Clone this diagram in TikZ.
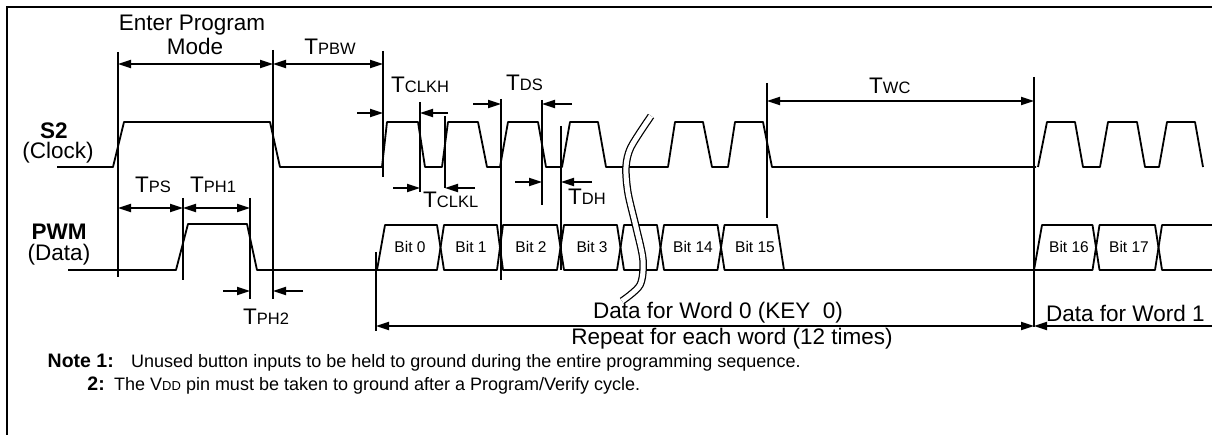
\documentclass[tikz,border=0pt]{standalone}
\usepackage{fontspec}
\setmainfont{Liberation Sans}
\usetikzlibrary{arrows.meta}
\newcommand\lblf{\fontsize{22.5}{24}\selectfont}
\newcommand\subf{\fontsize{16.5}{18}\selectfont}
\newcommand\bitf{\fontsize{15.5}{17}\selectfont}
\newcommand\notef{\fontsize{18}{20}\selectfont}
\newcommand\notehf{\fontsize{19.5}{21}\selectfont}
\newcommand\notesubf{\fontsize{13}{15}\selectfont}
\newcommand\tlab[1]{T{\subf #1}}
\begin{document}
\begin{tikzpicture}[x=1pt,y=-1pt,
  sig/.style={line width=1.8pt, line join=round},
  vl/.style={line width=1.8pt},
  dimarr/.style={line width=1.8pt,{Triangle[length=13pt,width=8pt]}-{Triangle[length=13pt,width=8pt]}},
  rarr/.style={line width=1.8pt,-{Triangle[length=13pt,width=8pt]}},
  lbl/.style={inner sep=0pt, font=\lblf},
  bitlbl/.style={inner sep=0pt, font=\bitf},
  notelbl/.style={inner sep=0pt, font=\notef},
  notehead/.style={inner sep=0pt, font=\notehf\bfseries}]
\useasboundingbox (0,0) rectangle (1212,435);
\fill[white] (0,0) rectangle (1212,435);
% frame
\draw[line width=2pt] (7,435) -- (7,7) -- (1212,7);

% vertical marker lines
\foreach \n/\x/\a/\b in {v1/118/52/277, v2/273/50/299, v3/183/198/280, v4/250/198/299,
  v5/383/51/177, v6/420/102/192, v7/445/116/188, v8/501/99/280, v9/542/100/205,
  v10/561/126/270, v11/767/83/218, v12/1034/77/327, v13/376/252/331}{
  \coordinate (\n t) at (\x,\a);
  \coordinate (\n b) at (\x,\b);
  \draw[vl] (\n t) -- (\n b);
}
% arrow rows
\foreach \n/\y in {r64/64, r113/113, r188/188, r104/104, r182/182, r101/101, r208/208, r291/291, r326/326}
  \coordinate (\n) at (0,\y);

% S2 clock
\draw[sig] (57,167) -- (113,167) -- (124,122) -- (270,122) -- (280,167) -- (382,167) -- (387,122)
  -- (418,122) -- (425,167) -- (442,167) -- (448,122) -- (478,122) -- (487,167) -- (500,167)
  -- (508,122) -- (538,122) -- (546,167) -- (562,167) -- (570,122) -- (598,122) -- (606,167)
  -- (668,167) -- (675,122) -- (703,122) -- (712,167) -- (728,167) -- (735,122) -- (763,122)
  -- (772,167) -- (1036,167);
\draw[sig] (1038,167) -- (1047,122) -- (1075,122) -- (1083,167) -- (1100,167) -- (1108,122)
  -- (1137,122) -- (1145,167) -- (1159,167) -- (1167,122) -- (1195,122) -- (1203,167);

% PWM data
\draw[sig] (68,270) -- (176,270) -- (188,224) -- (247,224) -- (257,270) -- (437,270) -- (444,225)
  -- (497,225) -- (503,270) -- (557,270) -- (564,225) -- (617,225) -- (624,270) -- (657,270)
  -- (664,225) -- (717.5,225) -- (724.5,270) -- (1092.5,270) -- (1099.5,225) -- (1155,225)
  -- (1162,270) -- (1212,270);
\draw[sig] (377,270) -- (385,225) -- (437,225) -- (444,270) -- (497,270) -- (503,225) -- (557,225)
  -- (564,270) -- (617,270) -- (624,225) -- (657,225) -- (664,270) -- (717.5,270) -- (724.5,225)
  -- (777,225) -- (784,270);
\draw[sig] (1034,270) -- (1042,225) -- (1092.5,225) -- (1099.5,270) -- (1155,270) -- (1162,225)
  -- (1212,225);

% break mark
\draw[line width=7.5pt] plot[smooth] coordinates {(651,116) (631,147) (626,167) (628,193) (636,227) (643,260) (640,285) (622,301)};
\draw[line width=5pt, white] plot[smooth] coordinates {(651,116) (631,147) (626,167) (628,193) (636,227) (643,260) (640,285) (622,301)};

% bit labels
\node[bitlbl] (b0) at (410,247) {Bit 0};
\node[bitlbl] (b1) at (471,247) {Bit 1};
\node[bitlbl] (b2) at (531,247) {Bit 2};
\node[bitlbl] (b3) at (592,247) {Bit 3};
\node[bitlbl] (b14) at (693,247) {Bit 14};
\node[bitlbl] (b15) at (755,247) {Bit 15};
\node[bitlbl] (b16) at (1069,247) {Bit 16};
\node[bitlbl] (b17) at (1129,247) {Bit 17};

% dimension arrows
\draw[dimarr] (v1t |- r64) -- (v2t |- r64);
\draw[dimarr] (v2t |- r64) -- (v5t |- r64);
\coordinate (h1) at (357,113); \coordinate (h2) at (448,113);
\draw[rarr] (h1) -- (v5t |- r113);
\draw[rarr] (h2) -- (v6t |- r113);
\coordinate (l1) at (393,188); \coordinate (l2) at (475,188);
\draw[rarr] (l1) -- (v6t |- r188);
\draw[rarr] (l2) -- (v7t |- r188);
\coordinate (s1) at (473,104); \coordinate (s2) at (572,104);
\draw[rarr] (s1) -- (v8t |- r104);
\draw[rarr] (s2) -- (v9t |- r104);
\coordinate (d1) at (515,182); \coordinate (d2) at (592,182);
\draw[rarr] (d1) -- (v9t |- r182);
\draw[rarr] (d2) -- (v10t |- r182);
\draw[dimarr] (v11t |- r101) -- (v12t |- r101);
\draw[dimarr] (v1t |- r208) -- (v3t |- r208);
\draw[dimarr] (v3t |- r208) -- (v4t |- r208);
\coordinate (p1) at (223,291); \coordinate (p2) at (303,291);
\draw[rarr] (p1) -- (v4t |- r291);
\draw[rarr] (p2) -- (v2t |- r291);
\draw[dimarr] (v13t |- r326) -- (v12t |- r326);
\coordinate (w1) at (1212,326);
\draw[rarr] (w1) -- (v12t |- r326);

% labels
\node[lbl] (ep) at (192,25) {Enter Program};
\node[lbl] (md) at (195,46) {Mode};
\node[lbl] (tpbw) at (330,47) {\tlab{PBW}};
\node[lbl, anchor=west] (tclkh) at (391,85) {\tlab{CLKH}};
\node[lbl, anchor=west] (tclkl) at (423,200) {\tlab{CLKL}};
\node[lbl, anchor=west] (tds) at (506,83) {\tlab{DS}};
\node[lbl, anchor=west] (tdh) at (568,197) {\tlab{DH}};
\node[lbl, anchor=west] (twc) at (869,86) {\tlab{WC}};
\node[lbl, anchor=west] (tps) at (135,185) {\tlab{PS}};
\node[lbl, anchor=west] (tph1) at (190,185) {\tlab{PH1}};
\node[lbl, anchor=west] (tph2) at (243,317) {\tlab{PH2}};
\node[lbl] (s2) at (54,131) {\bfseries S2};
\node[lbl] (clk) at (58,153) {(Clock)};
\node[lbl] (pwm) at (59,232) {\bfseries PWM};
\node[lbl] (dat) at (59,255) {(Data)};
\node[lbl] (w0) at (718,313) {Data for Word 0 (KEY\ \ 0)};
\node[lbl] (rep) at (732,339) {Repeat for each word (12 times)};
\node[lbl, anchor=west] (w1t) at (1046,313) {Data for Word 1};

% notes
\node[notehead, anchor=base east] (n1) at (114,367) {Note 1:};
\node[notelbl, anchor=base west] (n1t) at (131,367) {Unused button inputs to be held to ground during the entire programming sequence.};
\node[notehead, anchor=base east] (n2) at (105,390) {2:};
\node[notelbl, anchor=base west] (n2t) at (114,390) {The V{\notesubf DD} pin must be taken to ground after a Program/Verify cycle.};
\end{tikzpicture}
\end{document}
